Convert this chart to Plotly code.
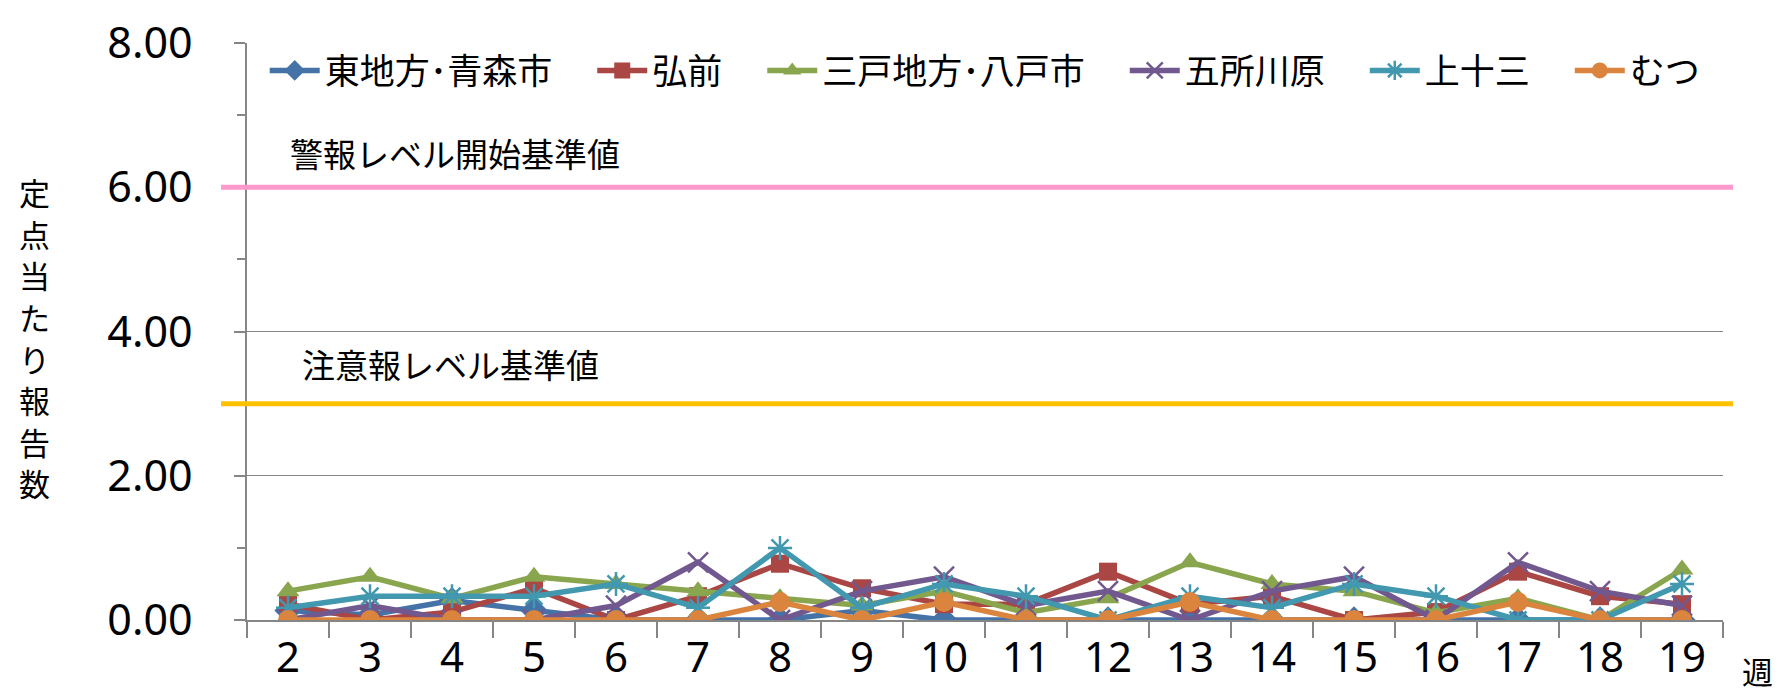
import plotly.graph_objects as go

weeks = [str(w) for w in range(2, 20)]

series_names = ["東地方･青森市", "弘前", "三戸地方･八戸市", "五所川原", "上十三", "むつ"]
aomori = [0.13, 0.07, 0.27, 0.13, 0, 0, 0, 0.13, 0, 0, 0, 0, 0, 0, 0, 0, 0, 0]
hirosaki = [0.22, 0, 0.11, 0.44, 0, 0.33, 0.78, 0.44, 0.22, 0.22, 0.67, 0.22, 0.33, 0, 0.11, 0.67, 0.33, 0.22]
hachinohe = [0.4, 0.6, 0.3, 0.6, 0.5, 0.4, 0.3, 0.2, 0.4, 0.1, 0.3, 0.8, 0.5, 0.4, 0.1, 0.3, 0, 0.7]
goshogawara = [0, 0.2, 0, 0, 0.2, 0.8, 0, 0.4, 0.6, 0.2, 0.4, 0, 0.4, 0.6, 0, 0.8, 0.4, 0.2]
kamitosan = [0.17, 0.33, 0.33, 0.33, 0.5, 0.17, 1.0, 0.17, 0.5, 0.33, 0, 0.33, 0.17, 0.5, 0.33, 0, 0, 0.5]
mutsu = [0, 0, 0, 0, 0, 0, 0.25, 0, 0.25, 0, 0, 0.25, 0, 0, 0, 0.25, 0, 0]

warning_level = 6.0
advisory_level = 3.0
warning_label = "警報レベル開始基準値"
advisory_label = "注意報レベル基準値"
y_title = "定点当たり報告数"
x_unit = "週"

values = [aomori, hirosaki, hachinohe, goshogawara, kamitosan, mutsu]
colors = ["#4572A7", "#AA4643", "#89A54E", "#71588F", "#4198AF", "#DB843D"]
symbols = ["diamond", "square", "triangle-up", "x-thin-open", "asterisk-open", "circle"]
sizes = [21, 18, 20, 20, 20, 20]

CJK = "Noto Sans CJK JP"
PAD = "\u3000"  # full-width space keeps the legend entries spread like the reference

fig = go.Figure()
for k, (name, vals, col, sym, sz) in enumerate(zip(series_names, values, colors, symbols, sizes)):
    open_sym = sym.endswith("open")
    label = name + (PAD if k < len(series_names) - 1 else "")
    fig.add_trace(go.Scatter(
        x=weeks, y=vals, name=label, mode="lines+markers",
        line=dict(color=col, width=5.5),
        marker=dict(symbol=sym, size=sz, color=col,
                    line=dict(color=col, width=2.5 if open_sym else 0)),
    ))

fig.add_shape(type="line", xref="paper", yref="y", x0=-0.0176, x1=1.0068,
              y0=warning_level, y1=warning_level, line=dict(color="#FF99CC", width=5))
fig.add_shape(type="line", xref="paper", yref="y", x0=-0.0176, x1=1.0068,
              y0=advisory_level, y1=advisory_level, line=dict(color="#FFC000", width=5))

fig.add_annotation(text=warning_label, xref="paper", yref="y", x=0.028, y=warning_level,
                   xanchor="left", yanchor="bottom", yshift=8, showarrow=False,
                   font=dict(family=CJK, size=33, color="#000000"))
fig.add_annotation(text=advisory_label, xref="paper", yref="y", x=0.036, y=advisory_level,
                   xanchor="left", yanchor="bottom", yshift=14, showarrow=False,
                   font=dict(family=CJK, size=33, color="#000000"))

# vertical (stacked) y-axis title, one character per line
pitch = 42.4 / 589.0
n = len(y_title)
for i, ch in enumerate(y_title):
    fig.add_annotation(text=ch, xref="paper", yref="paper",
                       x=-0.1443, y=0.49 + (n / 2 - 0.5 - i) * pitch,
                       xanchor="center", yanchor="middle", showarrow=False,
                       font=dict(family=CJK, size=31, color="#000000"))

fig.add_annotation(text=x_unit, xref="paper", yref="paper", x=1.035, y=-0.088,
                   xanchor="right", yanchor="middle", showarrow=False,
                   font=dict(family=CJK, size=31, color="#000000"))

axis_col = "#868686"
fig.update_layout(
    width=1779, height=700,
    margin=dict(l=247, r=56, t=31, b=80),
    paper_bgcolor="white", plot_bgcolor="white",
    font=dict(family="Noto Sans, " + CJK, size=40, color="#000000"),
    showlegend=True,
    legend=dict(orientation="h", x=0.012, y=0.952, xanchor="left", yanchor="middle",
                font=dict(family=CJK, size=35, color="#000000"),
                bgcolor="rgba(0,0,0,0)", itemwidth=50, tracegroupgap=0),
    xaxis=dict(type="category", range=[-0.5, len(weeks) - 0.5], showline=True,
               linecolor=axis_col, linewidth=1.5,
               showgrid=False, ticks="outside", tickson="boundaries", ticklen=16,
               tickcolor=axis_col, tickwidth=1.5, tickfont=dict(family="Noto Sans", size=42),
               zeroline=False),
    yaxis=dict(range=[0, 8], dtick=2, tickformat=".2f", showline=True, linecolor=axis_col,
               linewidth=1.5, showgrid=True, gridcolor=axis_col, gridwidth=1.2,
               ticks="outside", ticklen=11, tickcolor=axis_col, tickwidth=1.5,
               ticklabelstandoff=33, tickfont=dict(family="Noto Sans", size=43),
               zeroline=False,
               minor=dict(dtick=1, ticks="outside", ticklen=8, tickcolor=axis_col,
                          tickwidth=1.5, showgrid=False)),
)

fig.write_html("out.html", config={"displayModeBar": False},
               post_script="document.body.style.margin='0';")
